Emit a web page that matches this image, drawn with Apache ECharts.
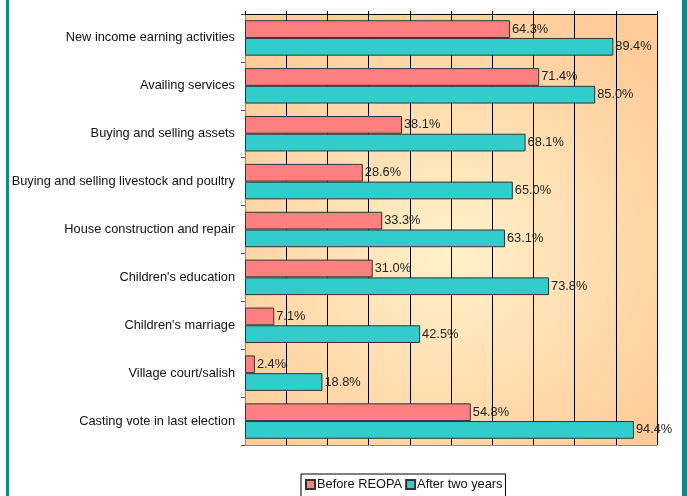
<!DOCTYPE html>
<html><head><meta charset="utf-8">
<script src="https://cdn.jsdelivr.net/npm/echarts@6/dist/echarts.min.js"></script>
<style>html,body{margin:0;padding:0;background:#fff}#c{width:687px;height:496px}</style>
</head><body><div id="c"></div>
<script>
const categories = ["New income earning activities","Availing services","Buying and selling assets","Buying and selling livestock and poultry","House construction and repair","Children's education","Children's marriage","Village court/salish","Casting vote in last election"];
const beforeValues = [64.3,71.4,38.1,28.6,33.3,31.0,7.1,2.4,54.8];
const afterValues = [89.4,85.0,68.1,65.0,63.1,73.8,42.5,18.8,94.4];
const seriesNames = ["Before REOPA","After two years"];

const chart = echarts.init(document.getElementById('c'), null, {renderer:'canvas'});
const font = 'Arial, "Liberation Sans", sans-serif';
const lbl = {show:true, position:'right', distance:2, color:'#222', fontSize:12.8, fontFamily:font,
  formatter: p => p.value.toFixed(1) + '%'};
chart.setOption({
  animation:false,
  backgroundColor:'#fff',
  textStyle:{fontFamily:font},
  grid:{left:245, right:30, top:14, bottom:51, show:true, borderWidth:0,
    backgroundColor:{type:'radial', x:0.5, y:0.55, r:0.65,
      colorStops:[{offset:0,color:'#FFF1CA'},{offset:1,color:'#FFCC99'}]}},
  xAxis:[{type:'value', min:0, max:100, interval:10, position:'top',
    axisLine:{show:true, lineStyle:{color:'#000', width:1}},
    axisTick:{show:true, length:3, lineStyle:{color:'#000'}},
    axisLabel:{show:false},
    splitLine:{show:true, lineStyle:{color:'#000', width:1}}},
   {type:'value', min:0, max:100, interval:10, position:'bottom',
    axisLine:{show:true, lineStyle:{color:'#888', width:1}},
    axisTick:{show:false}, axisLabel:{show:false}, splitLine:{show:false}}],
  yAxis:{type:'category', data:categories, inverse:true,
    axisLine:{show:true, lineStyle:{color:'#888'}},
    axisTick:{show:true, length:4, lineStyle:{color:'#555'}},
    axisLabel:{color:'#111', fontSize:12.8, fontFamily:font, margin:10}},
  legend:{left:301, top:474, itemWidth:9, itemHeight:9, icon:'rect', itemGap:3,
    borderColor:'#000', borderWidth:1, padding:[4,3,8,4], backgroundColor:'#fff',
    textStyle:{fontSize:12.8, color:'#111', fontFamily:font, padding:[0,0,0,-3]},
    data:seriesNames},
  series:[
    {name:seriesNames[0], type:'bar', data:beforeValues, barGap:'0%', barCategoryGap:'26%',
     itemStyle:{color:'#FF8080', borderColor:'#333', borderWidth:1}, label:lbl},
    {name:seriesNames[1], type:'bar', data:afterValues,
     itemStyle:{color:'#33CCCC', borderColor:'#333', borderWidth:1}, label:lbl}
  ],
  graphic:[
    {type:'rect', shape:{x:6, y:0, width:3, height:496}, style:{fill:'#138A86'}, silent:true},
    {type:'rect', shape:{x:682, y:0, width:5, height:496}, style:{fill:'#138A86'}, silent:true}
  ]
});
</script></body></html>
